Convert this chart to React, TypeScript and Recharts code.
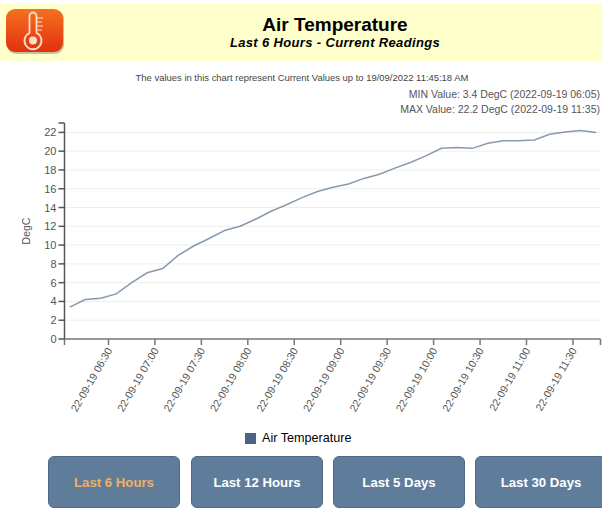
import { CartesianGrid, Legend, Line, LineChart, XAxis, YAxis } from "recharts"

// minutes after 06:00
const minutes = [
  5, 15, 25, 35, 45, 55, 65, 75, 85, 95, 105, 115, 125, 135, 145, 155, 165, 175,
  185, 195, 205, 215, 225, 235, 245, 255, 265, 275, 285, 295, 305, 315, 325, 335, 345,
]
const temperature = [
  3.4, 4.2, 4.35, 4.8, 6.0, 7.05, 7.5, 8.9, 9.9, 10.7, 11.55, 12.0, 12.75, 13.6, 14.3, 15.05,
  15.7, 16.15, 16.5, 17.1, 17.55, 18.2, 18.8, 19.5, 20.3, 20.4, 20.3, 20.85, 21.1, 21.1, 21.2,
  21.8, 22.05, 22.2, 22.0,
]
const xTicks = [1.6, 30, 60, 90, 120, 150, 180, 210, 240, 270, 300, 330, 347.8]
const xTickLabels = [
  "",
  "22-09-19 06:30",
  "22-09-19 07:00",
  "22-09-19 07:30",
  "22-09-19 08:00",
  "22-09-19 08:30",
  "22-09-19 09:00",
  "22-09-19 09:30",
  "22-09-19 10:00",
  "22-09-19 10:30",
  "22-09-19 11:00",
  "22-09-19 11:30",
  "",
]
const yTicks = [0, 2, 4, 6, 8, 10, 12, 14, 16, 18, 20, 22, 23]
const gridValues = [2, 4, 6, 8, 10, 12, 14, 16, 18, 20, 22]
const buttons = ["Last 6 Hours", "Last 12 Hours", "Last 5 Days", "Last 30 Days"]
const buttonLefts = [48, 191, 333, 475]

const chartData = minutes.map((m, i) => ({ minute: m, temp: temperature[i] }))

const font = "'Liberation Sans', Arial, sans-serif"

function XTick({ x, y, payload }: any) {
  const label = xTickLabels[xTicks.indexOf(payload.value)]
  if (!label) return null
  return (
    <text
      x={x}
      y={y}
      dy={6}
      dx={2}
      transform={`translate(-2 2) rotate(-60 ${x} ${y})`}
      textAnchor="end"
      fontSize={10.6}
      fontFamily={font}
      fill="#555"
    >
      {label}
    </text>
  )
}

function YTick({ x, y, payload }: any) {
  if (payload.value === 23) return null
  return (
    <text x={x} y={y} dy={4} textAnchor="end" fontSize={11} fontFamily={font} fill="#555">
      {payload.value}
    </text>
  )
}

function Icon() {
  return (
    <svg width={64} height={50} style={{ position: "absolute", left: 4, top: 7 }}>
      <defs>
        <linearGradient id="iconFill" x1="0" y1="0" x2="0" y2="1">
          <stop offset="0" stopColor="#f4721f" />
          <stop offset="1" stopColor="#e2300e" />
        </linearGradient>
      </defs>
      <rect x={3} y={3} width={57} height={44} rx={9} fill="#8a8a60" opacity={0.5} />
      <rect x={2} y={2} width={57} height={43} rx={9} fill="url(#iconFill)" />
      <path
        d="M25.5 9 a3.5 3.5 0 0 1 7 0 V26 a8.5 8.5 0 1 1 -7 0 Z"
        fill="none"
        stroke="#fbdccb"
        strokeWidth={1.8}
      />
      <circle cx={29} cy={33.5} r={4} fill="#fbdccb" />
      <path d="M33 11 h6 M33 15 h5 M33 19 h6 M33 23 h5" stroke="#fbdccb" strokeWidth={1} />
    </svg>
  )
}

export default function App() {
  return (
    <div
      style={{
        position: "absolute",
        left: 0,
        top: 0,
        width: 602,
        height: 508,
        overflow: "hidden",
        background: "#fff",
        fontFamily: font,
      }}
    >
      <div style={{ position: "absolute", left: 0, top: 4, width: 602, height: 57, background: "#ffffcc" }} />
      <Icon />
      <div style={{ position: "absolute", left: 68, width: 534, top: 14, textAlign: "center", fontSize: 19, fontWeight: 700, color: "#000" }}>
        Air Temperature
      </div>
      <div style={{ position: "absolute", left: 68, width: 534, top: 35, textAlign: "center", fontSize: 13, fontWeight: 700, fontStyle: "italic", color: "#000", letterSpacing: 0.35 }}>
        Last 6 Hours - Current Readings
      </div>
      <div style={{ position: "absolute", left: 0, width: 604, top: 72, textAlign: "center", fontSize: 9.45, color: "#444" }}>
        The values in this chart represent Current Values up to 19/09/2022 11:45:18 AM
      </div>
      <div style={{ position: "absolute", right: 2, top: 86.5, textAlign: "right", fontSize: 10.5, color: "#555", lineHeight: "15px" }}>
        MIN Value: 3.4 DegC (2022-09-19 06:05)
        <br />
        MAX Value: 22.2 DegC (2022-09-19 11:35)
      </div>

      <div style={{ position: "absolute", left: 0, top: 110 }}>
        <LineChart
          width={602}
          height={335}
          data={chartData}
          margin={{ top: 13, right: 1.5, bottom: 0, left: 0 }}
        >
          <CartesianGrid vertical={false} stroke="#eeeeee" horizontalValues={gridValues} />
          <XAxis
            dataKey="minute"
            type="number"
            scale="linear"
            domain={[1.6, 347.8]}
            ticks={xTicks}
            interval={0}
            height={92}
            tickSize={6}
            stroke="#777"
            strokeWidth={1.5}
            tick={<XTick />}
          />
          <YAxis
            type="number"
            domain={[0, 23]}
            ticks={yTicks}
            interval={0}
            width={64.5}
            tickSize={6}
            stroke="#555"
            strokeWidth={1.5}
            tick={<YTick />}
            label={{
              value: "DegC",
              angle: -90,
              position: "insideLeft",
              offset: 26,
              textAnchor: "middle",
              fontSize: 10.5,
              fontFamily: font,
              fill: "#555",
            }}
          />
          <Line
            dataKey="temp"
            name="Air Temperature"
            stroke="#4a6484"
            strokeOpacity={0.65}
            strokeWidth={1.5}
            dot={false}
            isAnimationActive={false}
          />
          <Legend
            iconType="square"
            iconSize={11}
            wrapperStyle={{ fontSize: 12.6, fontFamily: font, color: "#000", left: 3 }}
            formatter={(value: string) => <span style={{ color: "#000", marginLeft: 2 }}>{value}</span>}
          />
        </LineChart>
      </div>

      {buttons.map((b, i) => (
        <div
          key={b}
          style={{
            position: "absolute",
            left: buttonLefts[i],
            top: 456,
            width: 132,
            height: 52,
            boxSizing: "border-box",
            background: "#5f7c9b",
            border: "1px solid #4f6a87",
            borderRadius: 6,
            color: i === 0 ? "#f0b060" : "#fff",
            fontWeight: 700,
            fontSize: 13.2,
            lineHeight: "51px",
            textAlign: "center",
          }}
        >
          {b}
        </div>
      ))}
    </div>
  )
}
